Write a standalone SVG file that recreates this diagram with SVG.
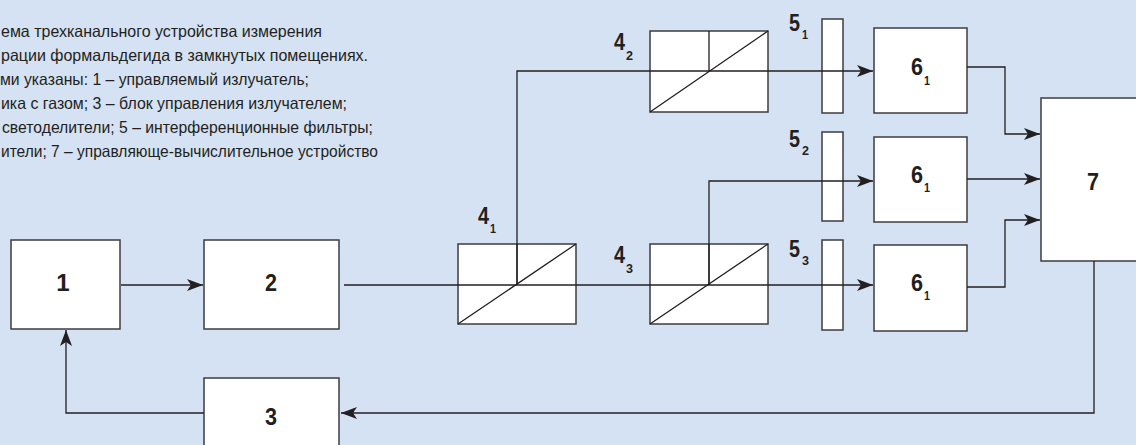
<svg xmlns="http://www.w3.org/2000/svg" width="1136" height="445" viewBox="0 0 1136 445">
  <defs>
    <style>
      .bg { fill: #d5e2f3; }
      .box { fill: #ffffff; stroke: #3d3d3f; stroke-width: 1.5; }
      .sym { fill: none; stroke: #231f20; stroke-width: 1.3; }
      .wire { fill: none; stroke: #231f20; stroke-width: 1.3; }
      .cap { font-family: "Liberation Sans", Arial, sans-serif; font-size: 16.5px; fill: #231f20; }
      .lbl { font-family: "Liberation Sans", Arial, sans-serif; font-weight: bold; font-size: 24px; fill: #231f20; }
      .sub { font-family: "Liberation Sans", Arial, sans-serif; font-weight: bold; font-size: 13px; fill: #231f20; }
    </style>
    <marker id="arr" markerUnits="userSpaceOnUse" markerWidth="18" markerHeight="14" refX="16" refY="6" orient="auto">
      <path d="M0,0 L16,6 L0,12 L4,6 Z" fill="#231f20"/>
    </marker>
  </defs>

  <rect class="bg" x="0" y="0" width="1136" height="445"/>

  <!-- caption -->
  <g id="caption" class="cap">
    <text x="1" y="37" textLength="321" lengthAdjust="spacingAndGlyphs">ема трехканального устройства измерения</text>
    <text x="1" y="61" textLength="367" lengthAdjust="spacingAndGlyphs">рации формальдегида в замкнутых помещениях.</text>
    <text x="0" y="85" textLength="309" lengthAdjust="spacingAndGlyphs">ми указаны: 1 – управляемый излучатель;</text>
    <text x="1" y="109" textLength="346" lengthAdjust="spacingAndGlyphs">ика с газом; 3 – блок управления излучателем;</text>
    <text x="2" y="133" textLength="371" lengthAdjust="spacingAndGlyphs">светоделители; 5 – интерференционные фильтры;</text>
    <text x="1" y="157" textLength="377" lengthAdjust="spacingAndGlyphs">ители; 7 – управляюще-вычислительное устройство</text>
  </g>

  <!-- block 1: emitter -->
  <g id="n1">
    <rect class="box" x="11" y="240" width="109" height="89"/>
    <text class="lbl" x="63" y="291" text-anchor="middle">1</text>
  </g>

  <!-- block 2: gas cell -->
  <g id="n2">
    <rect class="box" x="204" y="240" width="135" height="89"/>
    <text class="lbl" x="271" y="291" text-anchor="middle" textLength="12" lengthAdjust="spacingAndGlyphs">2</text>
  </g>

  <!-- block 3: emitter control -->
  <g id="n3">
    <rect class="box" x="204" y="378" width="135" height="90"/>
    <text class="lbl" x="271" y="425" text-anchor="middle" textLength="12" lengthAdjust="spacingAndGlyphs">3</text>
  </g>

  <!-- beam splitters 4 -->
  <g id="n4_1">
    <rect class="box" x="458" y="244" width="118" height="80"/>
    <path class="sym" d="M458,324 L576,244 M517,244 L517,285"/>
    <text class="lbl" x="478" y="224" textLength="11" lengthAdjust="spacingAndGlyphs">4</text>
    <text class="sub" x="490" y="233" textLength="6" lengthAdjust="spacingAndGlyphs">1</text>
  </g>
  <g id="n4_2">
    <rect class="box" x="650" y="31" width="118" height="81"/>
    <path class="sym" d="M650,112 L768,31 M709,31 L709,71"/>
    <text class="lbl" x="614" y="50" textLength="11" lengthAdjust="spacingAndGlyphs">4</text>
    <text class="sub" x="626" y="60" textLength="7" lengthAdjust="spacingAndGlyphs">2</text>
  </g>
  <g id="n4_3">
    <rect class="box" x="650" y="244" width="118" height="80"/>
    <path class="sym" d="M650,324 L768,244 M709,244 L709,285"/>
    <text class="lbl" x="614" y="263" textLength="11" lengthAdjust="spacingAndGlyphs">4</text>
    <text class="sub" x="626" y="273" textLength="7" lengthAdjust="spacingAndGlyphs">3</text>
  </g>

  <!-- interference filters 5 -->
  <g id="n5_1">
    <rect class="box" x="822" y="19" width="21" height="94"/>
    <text class="lbl" x="789" y="31" textLength="11" lengthAdjust="spacingAndGlyphs">5</text>
    <text class="sub" x="802" y="39" textLength="6" lengthAdjust="spacingAndGlyphs">1</text>
  </g>
  <g id="n5_2">
    <rect class="box" x="822" y="132" width="21" height="89"/>
    <text class="lbl" x="789" y="147" textLength="11" lengthAdjust="spacingAndGlyphs">5</text>
    <text class="sub" x="802" y="155" textLength="7" lengthAdjust="spacingAndGlyphs">2</text>
  </g>
  <g id="n5_3">
    <rect class="box" x="822" y="240" width="21" height="90"/>
    <text class="lbl" x="789" y="257" textLength="11" lengthAdjust="spacingAndGlyphs">5</text>
    <text class="sub" x="802" y="265" textLength="7" lengthAdjust="spacingAndGlyphs">3</text>
  </g>

  <!-- photodetectors 6 -->
  <g id="n6_a">
    <rect class="box" x="874" y="28" width="93" height="85"/>
    <text class="lbl" x="911" y="75" textLength="12" lengthAdjust="spacingAndGlyphs">6</text>
    <text class="sub" x="924" y="85" textLength="6" lengthAdjust="spacingAndGlyphs">1</text>
  </g>
  <g id="n6_b">
    <rect class="box" x="874" y="137" width="93" height="85"/>
    <text class="lbl" x="911" y="183" textLength="12" lengthAdjust="spacingAndGlyphs">6</text>
    <text class="sub" x="924" y="192" textLength="6" lengthAdjust="spacingAndGlyphs">1</text>
  </g>
  <g id="n6_c">
    <rect class="box" x="874" y="245" width="93" height="86"/>
    <text class="lbl" x="911" y="291" textLength="12" lengthAdjust="spacingAndGlyphs">6</text>
    <text class="sub" x="924" y="300" textLength="6" lengthAdjust="spacingAndGlyphs">1</text>
  </g>

  <!-- block 7: control and computing unit -->
  <g id="n7">
    <rect class="box" x="1041" y="98" width="120" height="163"/>
    <text class="lbl" x="1093" y="190" text-anchor="middle" textLength="12" lengthAdjust="spacingAndGlyphs">7</text>
  </g>

  <!-- connectors -->
  <g id="connectors" class="wire">
    <path d="M121,285 L203,285" marker-end="url(#arr)"/>
    <path d="M344,285 L873,285" marker-end="url(#arr)"/>
    <path d="M517,285 L517,71 L873,71" marker-end="url(#arr)"/>
    <path d="M709,285 L709,181 L873,181" marker-end="url(#arr)"/>
    <path d="M967,67 L1005,67 L1005,134 L1040,134" marker-end="url(#arr)"/>
    <path d="M967,179 L1040,179" marker-end="url(#arr)"/>
    <path d="M967,287 L1005,287 L1005,220 L1040,220" marker-end="url(#arr)"/>
    <path d="M1094,261 L1094,413 L341,413" marker-end="url(#arr)"/>
    <path d="M204,413 L66,413 L66,330" marker-end="url(#arr)"/>
  </g>
</svg>
